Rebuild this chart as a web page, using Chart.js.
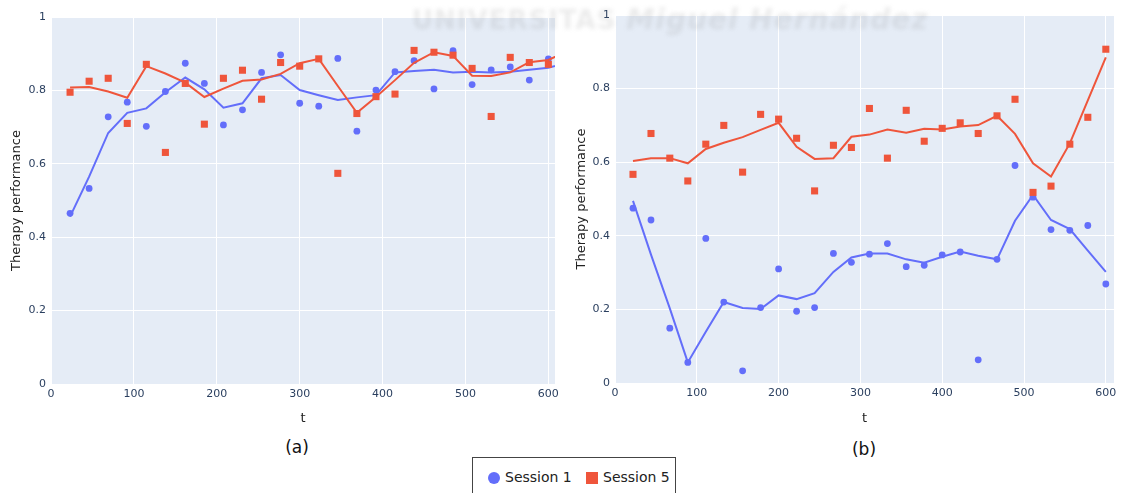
<!DOCTYPE html>
<html>
<head>
<meta charset="utf-8">
<script src="https://cdn.jsdelivr.net/npm/chart.js@4.4.1/dist/chart.umd.min.js"></script>
<style>
  body { margin: 0; background: #fff; width: 1126px; height: 493px; overflow: hidden; position: relative; font-family: "DejaVu Sans", sans-serif; }
  canvas { position: absolute; top: 0; }
  #chartA { left: 0; }
  #chartB { left: 564px; }
  .cap { position: absolute; font-size: 17px; color: #111; transform: translate(-50%, -50%); }
  #legende { position: absolute; left: 472px; top: 457px; width: 204px; height: 44px; border: 1px solid #444; box-sizing: border-box; font-size: 14px; color: #222; }
  #legende span { position: absolute; top: 11px; }
  .rond { position: absolute; left: 15px; top: 14px; width: 12px; height: 12px; border-radius: 50%; background: #636EFA; }
  .carre { position: absolute; left: 113px; top: 14px; width: 12px; height: 12px; background: #EF553B; }
  #filigrane { position: absolute; left: 412px; top: 3px; font-size: 26px; font-weight: bold; color: rgba(130,130,130,0.16); filter: blur(2px); white-space: nowrap; pointer-events: none; letter-spacing: 1px; }
  #filigrane i { font-size: 28px; }
</style>
</head>
<body>
<canvas id="chartA" width="580" height="430"></canvas>
<canvas id="chartB" width="562" height="430"></canvas>
<div id="filigrane">UNIVERSITAS <i>Miguel Hernández</i></div>
<div class="cap" style="left:297px; top:447px;">(a)</div>
<div class="cap" style="left:864px; top:449px;">(b)</div>
<div id="legende">
  <div class="rond"></div><span style="left:32px;">Session 1</span>
  <div class="carre"></div><span style="left:130px;">Session 5</span>
</div>
<script>
// graduations des axes
const ticksT = [0, 100, 200, 300, 400, 500, 600]
const ticksPerf = [0, 0.2, 0.4, 0.6, 0.8, 1]

// temps (t) des mesures
const tA = [23, 46, 69, 92, 115, 138, 162, 185, 208, 231, 254, 277, 300, 323, 346, 369, 392, 415, 438, 462, 485, 508, 531, 554, 577, 600]
const tLigneA = [...tA, 623]
const tB = [22, 44, 67, 89, 111, 133, 156, 178, 200, 222, 244, 267, 289, 311, 333, 356, 378, 400, 422, 444, 467, 489, 511, 533, 556, 578, 600]

// (a) points et courbes lissées
const session1A = [0.465, 0.533, 0.728, 0.768, 0.702, 0.797, 0.874, 0.819, 0.706, 0.747, 0.849, 0.897, 0.765, 0.757, 0.887, 0.689, 0.801, 0.851, 0.881, 0.804, 0.908, 0.816, 0.856, 0.864, 0.828, 0.886]
const session5A = [0.795, 0.825, 0.833, 0.710, 0.871, 0.631, 0.819, 0.708, 0.833, 0.855, 0.776, 0.876, 0.866, 0.886, 0.574, 0.737, 0.783, 0.790, 0.909, 0.904, 0.896, 0.860, 0.729, 0.890, 0.876, 0.871]
const lisse1A = [0.456, 0.565, 0.684, 0.739, 0.751, 0.795, 0.835, 0.803, 0.753, 0.765, 0.833, 0.842, 0.801, 0.787, 0.774, 0.781, 0.787, 0.849, 0.853, 0.856, 0.849, 0.851, 0.849, 0.851, 0.856, 0.862, 0.875]
const lisse5A = [0.808, 0.809, 0.797, 0.780, 0.866, 0.846, 0.821, 0.782, 0.805, 0.826, 0.830, 0.845, 0.874, 0.886, 0.812, 0.739, 0.782, 0.828, 0.875, 0.904, 0.894, 0.840, 0.839, 0.849, 0.877, 0.883, 0.907]

// (b) points et courbes lissées
const session1B = [0.475, 0.443, 0.149, 0.056, 0.393, 0.220, 0.033, 0.205, 0.310, 0.195, 0.205, 0.352, 0.328, 0.350, 0.379, 0.316, 0.320, 0.348, 0.356, 0.063, 0.336, 0.591, 0.505, 0.417, 0.415, 0.428, 0.269]
const session5B = [0.567, 0.678, 0.611, 0.549, 0.649, 0.700, 0.573, 0.730, 0.717, 0.665, 0.522, 0.646, 0.640, 0.746, 0.611, 0.741, 0.657, 0.692, 0.707, 0.678, 0.726, 0.771, 0.518, 0.535, 0.649, 0.722, 0.907]
const lisse1B = [0.495, 0.349, 0.203, 0.056, 0.139, 0.220, 0.204, 0.201, 0.238, 0.228, 0.244, 0.302, 0.341, 0.352, 0.352, 0.336, 0.327, 0.343, 0.357, 0.346, 0.336, 0.441, 0.511, 0.443, 0.418, 0.360, 0.302]
const lisse5B = [0.603, 0.611, 0.611, 0.597, 0.636, 0.653, 0.668, 0.688, 0.707, 0.642, 0.609, 0.611, 0.669, 0.675, 0.689, 0.680, 0.691, 0.689, 0.697, 0.701, 0.726, 0.677, 0.597, 0.561, 0.651, 0.768, 0.885]

const bleu = "#636EFA"
const rouge = "#EF553B"
const police = "DejaVu Sans"

const points = (xs, ys) => xs.map((x, i) => ({x: x, y: ys[i]}))
const graduer = valeurs => s => { s.ticks = valeurs.map(v => ({value: v})) }

// fond bleuté de la zone de tracé
const fondZone = {
  id: "fondZone",
  beforeDraw(chart) {
    const {ctx, chartArea: a} = chart
    ctx.save()
    ctx.fillStyle = "#E5ECF6"
    ctx.fillRect(a.left, a.top, a.right - a.left, a.bottom - a.top)
    ctx.restore()
  }
}

const creerGraphe = (id, t, tLigne, s1, s5, l1, l5, cfg) => {
  return new Chart(document.getElementById(id), {
    type: "scatter",
    data: {
      datasets: [
        {data: points(tLigne, l5), showLine: true, borderColor: rouge, borderWidth: 2, pointRadius: 0},
        {data: points(t, s5), pointStyle: "rect", pointRadius: 5, backgroundColor: rouge, borderWidth: 0},
        {data: points(tLigne, l1), showLine: true, borderColor: bleu, borderWidth: 2, pointRadius: 0},
        {data: points(t, s1), pointStyle: "circle", pointRadius: 3.4, backgroundColor: bleu, borderWidth: 0}
      ]
    },
    options: {
      responsive: false,
      animation: false,
      layout: {padding: {left: 0, right: cfg.droite, top: cfg.haut, bottom: 0}},
      plugins: {legend: {display: false}, tooltip: {enabled: false}},
      scales: {
        x: {
          type: "linear",
          min: 0,
          max: cfg.tMax,
          afterBuildTicks: graduer(ticksT),
          afterFit: s => { s.height = 430 - cfg.bas },
          ticks: {padding: 4, color: "#2a3f5f", font: {family: police, size: 11}, callback: v => String(v)},
          grid: {color: "#ffffff", lineWidth: 1, drawTicks: false},
          border: {display: false},
          title: {display: true, text: "t", color: "#222", font: {family: police, size: 13}, padding: {top: 0, bottom: 4}}
        },
        y: {
          min: 0,
          max: 1,
          afterBuildTicks: graduer(ticksPerf),
          afterFit: s => { s.width = 51 },
          ticks: {padding: 5, color: "#2a3f5f", font: {family: police, size: 11}, callback: v => String(v)},
          grid: {color: "#ffffff", lineWidth: 1, drawTicks: false},
          border: {display: false},
          title: {display: true, text: "Therapy performance", color: "#222", font: {family: police, size: 13}, padding: {top: cfg.titreY, bottom: 0}}
        }
      }
    },
    plugins: [fondZone]
  })
}

creerGraphe("chartA", tA, tLigneA, session1A, session5A, lisse1A, lisse5A, {tMax: 608, droite: 25, haut: 17, bas: 384, titreY: 9})
creerGraphe("chartB", tB, tB, session1B, session5B, lisse1B, lisse5B, {tMax: 610, droite: 12, haut: 15, bas: 383, titreY: 10})
</script>
</body>
</html>
